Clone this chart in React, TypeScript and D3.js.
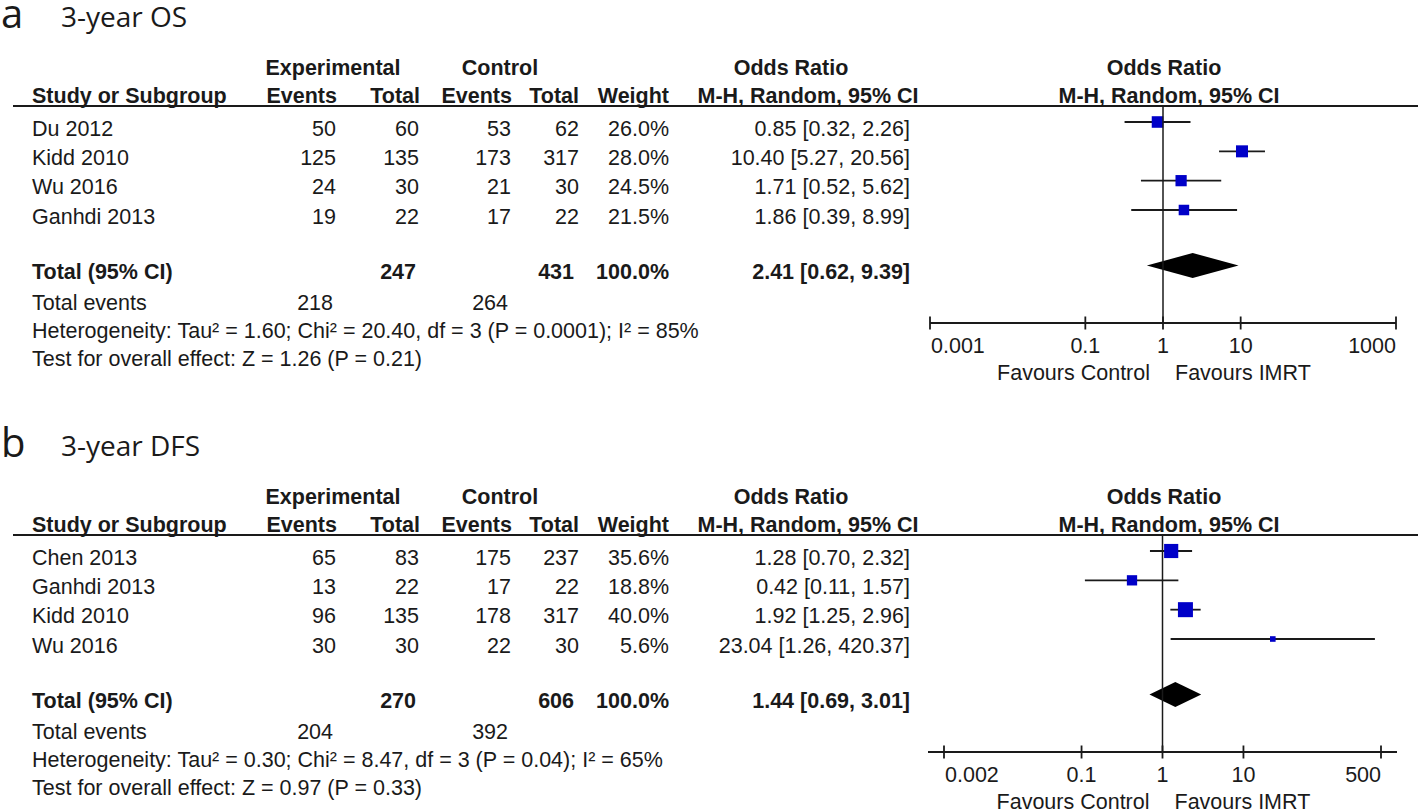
import React, { useEffect, useRef } from 'react';
import * as d3 from 'd3';

// ---- 3-year OS ----
const osStudies = ['Du 2012', 'Kidd 2010', 'Wu 2016', 'Ganhdi 2013'];
const osExpEvents = [50, 125, 24, 19];
const osExpTotal = [60, 135, 30, 22];
const osCtrlEvents = [53, 173, 21, 17];
const osCtrlTotal = [62, 317, 30, 22];
const osWeight = [26.0, 28.0, 24.5, 21.5];
const osOR = [0.85, 10.4, 1.71, 1.86];
const osLower = [0.32, 5.27, 0.52, 0.39];
const osUpper = [2.26, 20.56, 5.62, 8.99];
const osPooled = [2.41, 0.62, 9.39];
const osTotals = [247, 431];
const osTotalEvents = [218, 264];
const osHet = 'Heterogeneity: Tau² = 1.60; Chi² = 20.40, df = 3 (P = 0.0001); I² = 85%';
const osTest = 'Test for overall effect: Z = 1.26 (P = 0.21)';
const osTicks = [0.001, 0.1, 1, 10, 1000];
const osTickLabels = ['0.001', '0.1', '1', '10', '1000'];

// ---- 3-year DFS ----
const dfsStudies = ['Chen 2013', 'Ganhdi 2013', 'Kidd 2010', 'Wu 2016'];
const dfsExpEvents = [65, 13, 96, 30];
const dfsExpTotal = [83, 22, 135, 30];
const dfsCtrlEvents = [175, 17, 178, 22];
const dfsCtrlTotal = [237, 22, 317, 30];
const dfsWeight = [35.6, 18.8, 40.0, 5.6];
const dfsOR = [1.28, 0.42, 1.92, 23.04];
const dfsLower = [0.70, 0.11, 1.25, 1.26];
const dfsUpper = [2.32, 1.57, 2.96, 420.37];
const dfsPooled = [1.44, 0.69, 3.01];
const dfsTotals = [270, 606];
const dfsTotalEvents = [204, 392];
const dfsHet = 'Heterogeneity: Tau² = 0.30; Chi² = 8.47, df = 3 (P = 0.04); I² = 65%';
const dfsTest = 'Test for overall effect: Z = 0.97 (P = 0.33)';
const dfsTicks = [0.002, 0.1, 1, 10, 500];
const dfsTickLabels = ['0.002', '0.1', '1', '10', '500'];

const FONT = "'Liberation Sans', Arial, sans-serif";
const TITLE_FONT = "'Open Sans', 'Noto Sans', sans-serif";
const INK = '#1a1a1a';
const FS = 21.5;

const fmt2 = (v: number) => v.toFixed(2);
const fmtW = (v: number) => v.toFixed(1) + '%';

const panels = [
  {
    letter: 'a', title: '3-year OS', oy: 0,
    studies: osStudies, expE: osExpEvents, expT: osExpTotal, ctlE: osCtrlEvents, ctlT: osCtrlTotal,
    weight: osWeight, or: osOR, lo: osLower, hi: osUpper, pooled: osPooled, totals: osTotals,
    events: osTotalEvents, het: osHet, test: osTest, ticks: osTicks, tickLabels: osTickLabels,
    range: [930, 1396], pad: 0, maxBox: 12,
  },
  {
    letter: 'b', title: '3-year DFS', oy: 429,
    studies: dfsStudies, expE: dfsExpEvents, expT: dfsExpTotal, ctlE: dfsCtrlEvents, ctlT: dfsCtrlTotal,
    weight: dfsWeight, or: dfsOR, lo: dfsLower, hi: dfsUpper, pooled: dfsPooled, totals: dfsTotals,
    events: dfsTotalEvents, het: dfsHet, test: dfsTest, ticks: dfsTicks, tickLabels: dfsTickLabels,
    range: [944, 1381], pad: 16, maxBox: 15,
  },
];

const App = () => {
  const svgRef = useRef<SVGSVGElement>(null);

  useEffect(() => {
    const svg = d3.select(svgRef.current);
    svg.selectAll('*').remove();

    panels.forEach(p => {
      const g = svg.append('g').attr('transform', `translate(0,${p.oy})`);

      const text = (x: number, y: number, s: string, anchor = 'start', bold = false) =>
        g.append('text')
          .attr('x', x).attr('y', y)
          .attr('text-anchor', anchor)
          .style('font-family', FONT)
          .style('font-size', `${FS}px`)
          .style('font-weight', bold ? 700 : 400)
          .style('fill', INK)
          .text(s);

      // panel letter + title
      g.append('text').attr('x', 1).attr('y', 28).text(p.letter)
        .style('font-family', TITLE_FONT).style('font-size', '40px').style('fill', INK);
      g.append('text').attr('x', 61).attr('y', 27).text(p.title)
        .style('font-family', TITLE_FONT).style('font-size', '28px').style('fill', INK);

      // column layout (right edges)
      const cExpE = 336, cExpT = 419, cCtlE = 511, cCtlT = 579, cW = 669, cOR = 910;

      // headers
      const h1 = 75, h2 = 103;
      text(333, h1, 'Experimental', 'middle', true);
      text(500, h1, 'Control', 'middle', true);
      text(791, h1, 'Odds Ratio', 'middle', true);
      text(1164, h1, 'Odds Ratio', 'middle', true);
      text(32, h2, 'Study or Subgroup', 'start', true);
      text(cExpE + 1, h2, 'Events', 'end', true);
      text(cExpT + 1, h2, 'Total', 'end', true);
      text(cCtlE + 1, h2, 'Events', 'end', true);
      text(cCtlT, h2, 'Total', 'end', true);
      text(cW, h2, 'Weight', 'end', true);
      text(808, h2, 'M-H, Random, 95% CI', 'middle', true);
      text(1169, h2, 'M-H, Random, 95% CI', 'middle', true);

      const lineTop = 106;
      g.append('line').attr('x1', 13).attr('x2', 1418).attr('y1', lineTop).attr('y2', lineTop)
        .attr('stroke', INK).attr('stroke-width', 2);

      // rows
      const rowY = d3.scalePoint<number>().domain(d3.range(p.studies.length)).range([135.5, 223.5]);
      const x = d3.scaleLog().domain([p.ticks[0], p.ticks[p.ticks.length - 1]]).range(p.range as [number, number]);
      const box = d3.scaleSqrt().domain([0, d3.max(p.weight) as number]).range([0, p.maxBox]);
      const markOff = 13.5;

      p.studies.forEach((s, i) => {
        const y = rowY(i) as number;
        text(32, y, s);
        text(cExpE, y, String(p.expE[i]), 'end');
        text(cExpT, y, String(p.expT[i]), 'end');
        text(cCtlE, y, String(p.ctlE[i]), 'end');
        text(cCtlT, y, String(p.ctlT[i]), 'end');
        text(cW, y, fmtW(p.weight[i]), 'end');
        text(cOR, y, `${fmt2(p.or[i])} [${fmt2(p.lo[i])}, ${fmt2(p.hi[i])}]`, 'end');

        const my = y - markOff;
        g.append('line').attr('x1', x(p.lo[i])).attr('x2', x(p.hi[i])).attr('y1', my).attr('y2', my)
          .attr('stroke', INK).attr('stroke-width', 1.8);
        const b = box(p.weight[i]);
        g.append('rect').attr('x', x(p.or[i]) - b / 2).attr('y', my - b / 2)
          .attr('width', b).attr('height', b).attr('fill', '#0000c8');
      });

      // totals
      const yT = 279;
      text(32, yT, 'Total (95% CI)', 'start', true);
      text(cExpT - 3, yT, String(p.totals[0]), 'end', true);
      text(cCtlT - 5, yT, String(p.totals[1]), 'end', true);
      text(cW, yT, '100.0%', 'end', true);
      text(cOR, yT, `${fmt2(p.pooled[0])} [${fmt2(p.pooled[1])}, ${fmt2(p.pooled[2])}]`, 'end', true);
      const dy = yT - markOff;
      const dh = 12.5;
      g.append('path')
        .attr('d', `M${x(p.pooled[1])},${dy} L${x(p.pooled[0])},${dy - dh} L${x(p.pooled[2])},${dy} L${x(p.pooled[0])},${dy + dh} Z`)
        .attr('fill', '#000');

      const yE = 310;
      text(32, yE, 'Total events');
      text(cExpE - 3, yE, String(p.events[0]), 'end');
      text(cCtlE - 3, yE, String(p.events[1]), 'end');
      text(32, 338, p.het);
      text(32, 366, p.test);

      // axis
      const axisY = 323;
      const [r0, r1] = p.range;
      g.append('line').attr('x1', x(1)).attr('x2', x(1)).attr('y1', lineTop).attr('y2', axisY)
        .attr('stroke', INK).attr('stroke-width', 1.5);
      g.append('line').attr('x1', r0 - p.pad).attr('x2', r1 + p.pad).attr('y1', axisY).attr('y2', axisY)
        .attr('stroke', INK).attr('stroke-width', 1.8);
      p.ticks.forEach((t, i) => {
        g.append('line').attr('x1', x(t)).attr('x2', x(t)).attr('y1', axisY - 6.5).attr('y2', axisY + 6.5)
          .attr('stroke', INK).attr('stroke-width', 1.8);
        const anchor = i === 0 ? 'start' : i === p.ticks.length - 1 ? 'end' : 'middle';
        text(x(t) + (i === 0 ? 1 : 0), 353, p.tickLabels[i], anchor);
      });
      text(x(1) - 13, 380, 'Favours Control', 'end');
      text(x(1) + 12, 380, 'Favours IMRT', 'start');
    });
  }, []);

  return (
    <svg
      ref={svgRef}
      width={1418}
      height={812}
      style={{ position: 'absolute', left: 0, top: 0, background: '#fff' }}
    />
  );
};

export default App;
